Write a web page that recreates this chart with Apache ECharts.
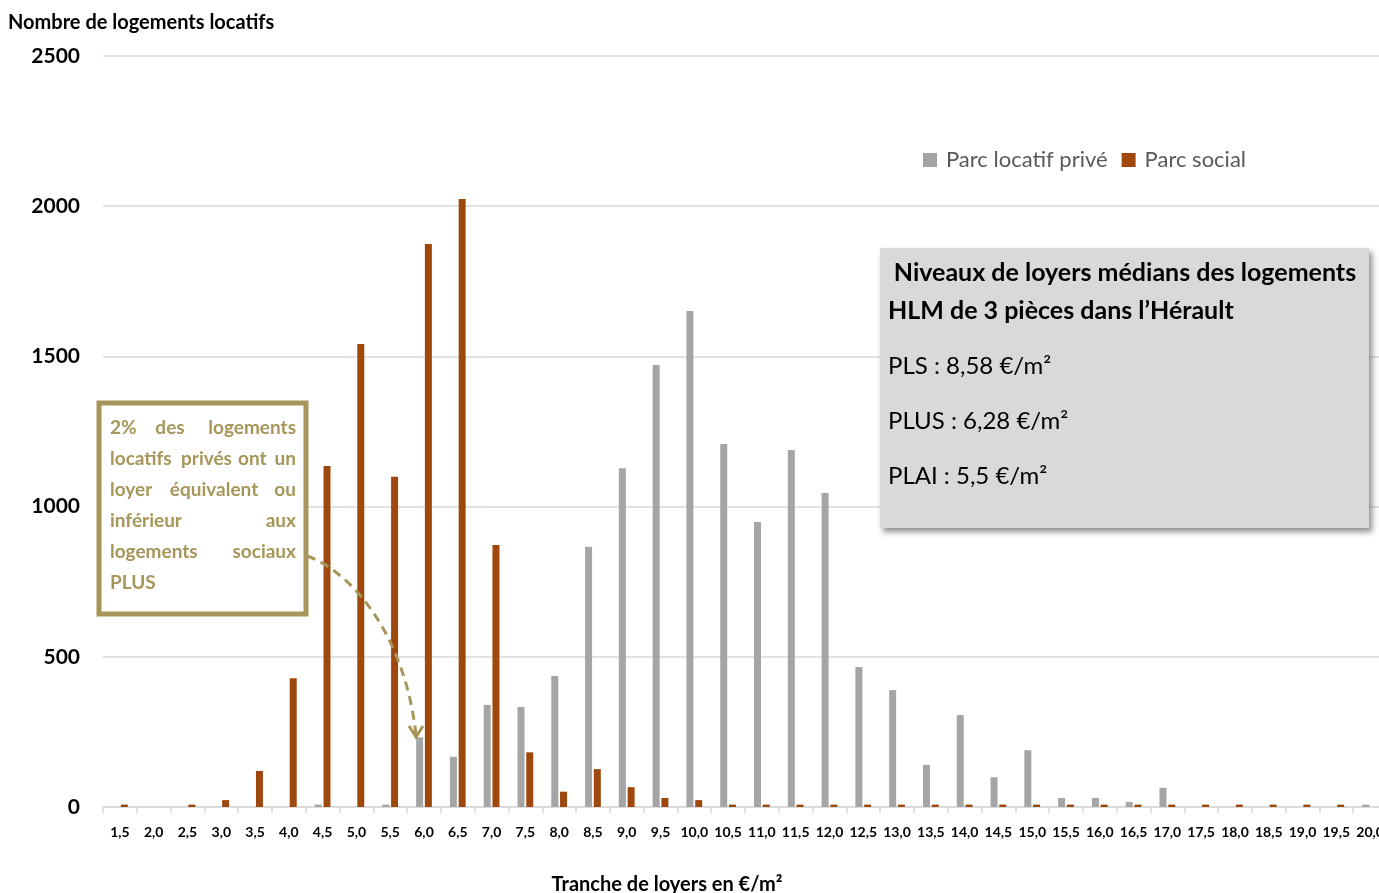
<!DOCTYPE html>
<html>
<head>
<meta charset="utf-8">
<script src="https://cdn.jsdelivr.net/npm/echarts@6/dist/echarts.min.js"></script>
<style>
  html, body { margin: 0; padding: 0; background: #ffffff; }
  #chart { width: 1379px; height: 893px; }
</style>
</head>
<body>
<div id="chart"></div>
<script>
// Rent brackets (€/m²)
const categories = ['1,5','2,0','2,5','3,0','3,5','4,0','4,5','5,0','5,5','6,0',
  '6,5','7,0','7,5','8,0','8,5','9,0','9,5','10,0','10,5','11,0',
  '11,5','12,0','12,5','13,0','13,5','14,0','14,5','15,0','15,5','16,0',
  '16,5','17,0','17,5','18,0','18,5','19,0','19,5','20,0'];

// Number of rental dwellings per bracket — private stock
const parcPrive = [0,0,0,0,0,0,8,0,8,232,
  167,340,333,436,866,1128,1471,1651,1208,949,
  1188,1045,466,389,140,306,99,189,30,30,
  17,64,0,0,0,0,0,8];

// Number of rental dwellings per bracket — social stock
const parcSocial = [8,0,8,23,120,429,1135,1541,1099,1874,
  2024,872,182,51,126,66,30,23,8,8,
  8,8,8,8,8,8,8,8,8,8,
  8,8,8,8,8,8,8,0];

const yTicks = { min: 0, max: 2500, interval: 500 };

const FONT = 'Lato, "Open Sans", sans-serif';
const GOLD = '#a6965a';

const chart = echarts.init(document.getElementById('chart'), null, { renderer: 'canvas' });

chart.setOption({
  animation: false,
  backgroundColor: '#ffffff',
  textStyle: { fontFamily: FONT },
  grid: { left: 103, right: -8, top: 56, bottom: 86, containLabel: false, outerBoundsMode: 'none' },
  legend: {
    left: 918, top: 144,
    itemWidth: 14, itemHeight: 14, itemGap: 14,
    icon: 'rect',
    textStyle: { fontFamily: FONT, fontSize: 22, color: '#595959', padding: [0, 0, 0, 4] },
    data: ['Parc locatif privé', 'Parc social']
  },
  xAxis: {
    type: 'category',
    data: categories,
    name: 'Tranche de loyers en €/m²',
    nameLocation: 'middle',
    nameGap: 68,
    nameTextStyle: { fontFamily: FONT, fontSize: 20, fontWeight: 'bold', color: '#000', padding: [0, 156, 0, 0] },
    axisLine: { lineStyle: { color: '#d9d9d9', width: 1.5 } },
    axisTick: { show: true, length: 6, lineStyle: { color: '#d9d9d9', width: 1.5 } },
    axisLabel: { interval: 0, margin: 18, fontFamily: FONT, fontSize: 14, fontWeight: 'bold', color: '#000' }
  },
  yAxis: {
    type: 'value',
    min: yTicks.min, max: yTicks.max, interval: yTicks.interval,
    name: 'Nombre de logements locatifs',
    nameLocation: 'end',
    nameGap: 23,
    nameTextStyle: { fontFamily: FONT, fontSize: 20, fontWeight: 'bold', color: '#000', align: 'left', padding: [0, 0, 0, -95] },
    axisLine: { show: false },
    axisTick: { show: false },
    axisLabel: { margin: 23, fontFamily: FONT, fontSize: 21, fontWeight: 'bold', color: '#000', formatter: v => String(v) },
    splitLine: { lineStyle: { color: '#d9d9d9', width: 1.5 } }
  },
  series: [
    {
      name: 'Parc locatif privé',
      type: 'bar',
      data: parcPrive,
      barWidth: 7,
      barGap: '25%',
      itemStyle: { color: '#a5a5a5' }
    },
    {
      name: 'Parc social',
      type: 'bar',
      data: parcSocial,
      barWidth: 7,
      barGap: '25%',
      itemStyle: { color: '#9e480e' }
    }
  ],
  graphic: [
    // Median rent box
    {
      type: 'rect', z: 10,
      shape: { x: 880, y: 248, width: 489, height: 280 },
      style: { fill: '#d9d9d9', shadowBlur: 6, shadowOffsetX: 3, shadowOffsetY: 4, shadowColor: 'rgba(0,0,0,0.45)' }
    },
    { type: 'text', z: 11, x: 1125, y: 273,
      style: { text: 'Niveaux de loyers médians des logements', font: 'bold 25px ' + FONT, fill: '#000', textAlign: 'center', textVerticalAlign: 'middle' } },
    { type: 'text', z: 11, x: 888, y: 311,
      style: { text: 'HLM de 3 pièces dans l’Hérault', font: 'bold 25px ' + FONT, fill: '#000', textAlign: 'left', textVerticalAlign: 'middle' } },
    { type: 'text', z: 11, x: 888, y: 366,
      style: { text: 'PLS : 8,58 €/m²', font: '24px ' + FONT, fill: '#000', textAlign: 'left', textVerticalAlign: 'middle' } },
    { type: 'text', z: 11, x: 888, y: 421,
      style: { text: 'PLUS : 6,28 €/m²', font: '24px ' + FONT, fill: '#000', textAlign: 'left', textVerticalAlign: 'middle' } },
    { type: 'text', z: 11, x: 888, y: 476,
      style: { text: 'PLAI : 5,5 €/m²', font: '24px ' + FONT, fill: '#000', textAlign: 'left', textVerticalAlign: 'middle' } },

    // Callout on the share of private dwellings (justified lines)
    {
      type: 'rect', z: 10,
      shape: { x: 99, y: 403, width: 207, height: 211 },
      style: { fill: '#ffffff', stroke: GOLD, lineWidth: 5 }
    },
    ...[
      [428, [['2%', 110, 'left'], ['des', 170, 'center'], ['logements', 296, 'right']]],
      [459, [['locatifs', 110, 'left'], ['privés', 181, 'left'], ['ont', 238, 'left'], ['un', 296, 'right']]],
      [490, [['loyer', 110, 'left'], ['équivalent', 214, 'center'], ['ou', 296, 'right']]],
      [521, [['inférieur', 110, 'left'], ['aux', 296, 'right']]],
      [552, [['logements', 110, 'left'], ['sociaux', 296, 'right']]],
      [583, [['PLUS', 110, 'left']]]
    ].flatMap(([y, words]) => words.map(([w, x, a]) => ({
      type: 'text', z: 11, x: x, y: y,
      style: { text: w, font: 'bold 19px ' + FONT, fill: GOLD, textAlign: a, textVerticalAlign: 'middle' }
    }))),

    // Dashed pointer to the 6,0 €/m² bracket
    {
      type: 'bezierCurve', z: 12,
      shape: { x1: 307, y1: 556, cpx1: 352, cpy1: 572, cpx2: 405, cpy2: 635, x2: 416, y2: 735 },
      style: { stroke: GOLD, lineWidth: 3, lineDash: [9, 6], fill: null }
    },
    {
      type: 'polyline', z: 12,
      shape: { points: [[409, 726], [416, 737], [423, 726]] },
      style: { stroke: GOLD, lineWidth: 3, fill: null }
    }
  ]
});
</script>
</body>
</html>
